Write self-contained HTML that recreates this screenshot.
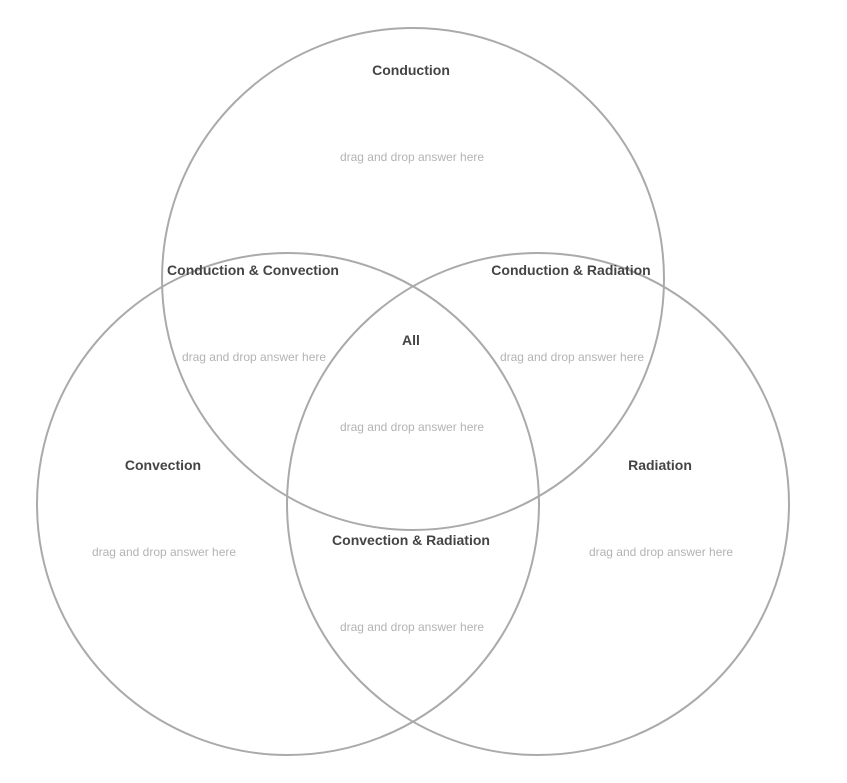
<!DOCTYPE html>
<html><head><style>body{margin:0;background:#fff}svg{display:block}</style></head>
<body>
<svg width="847" height="783" xmlns="http://www.w3.org/2000/svg" font-family="Liberation Sans, Arial, sans-serif">
<g fill="none" stroke="#aaa" stroke-width="2">
<circle cx="413" cy="279" r="251"/>
<circle cx="288" cy="504" r="251"/>
<circle cx="538" cy="504" r="251"/>
</g>
<g font-size="14" font-weight="bold" fill="#444" text-anchor="middle" dominant-baseline="central">
<text x="411" y="70">Conduction</text>
<text x="253" y="270">Conduction &amp; Convection</text>
<text x="571" y="270">Conduction &amp; Radiation</text>
<text x="411" y="340">All</text>
<text x="163" y="465">Convection</text>
<text x="660" y="465">Radiation</text>
<text x="411" y="540">Convection &amp; Radiation</text>
</g>
<g font-size="12" fill="#b3b3b3" text-anchor="middle" dominant-baseline="central">
<text x="412" y="157">drag and drop answer here</text>
<text x="254" y="357">drag and drop answer here</text>
<text x="572" y="357">drag and drop answer here</text>
<text x="412" y="427">drag and drop answer here</text>
<text x="164" y="552">drag and drop answer here</text>
<text x="661" y="552">drag and drop answer here</text>
<text x="412" y="627">drag and drop answer here</text>
</g>
</svg>
</body></html>
